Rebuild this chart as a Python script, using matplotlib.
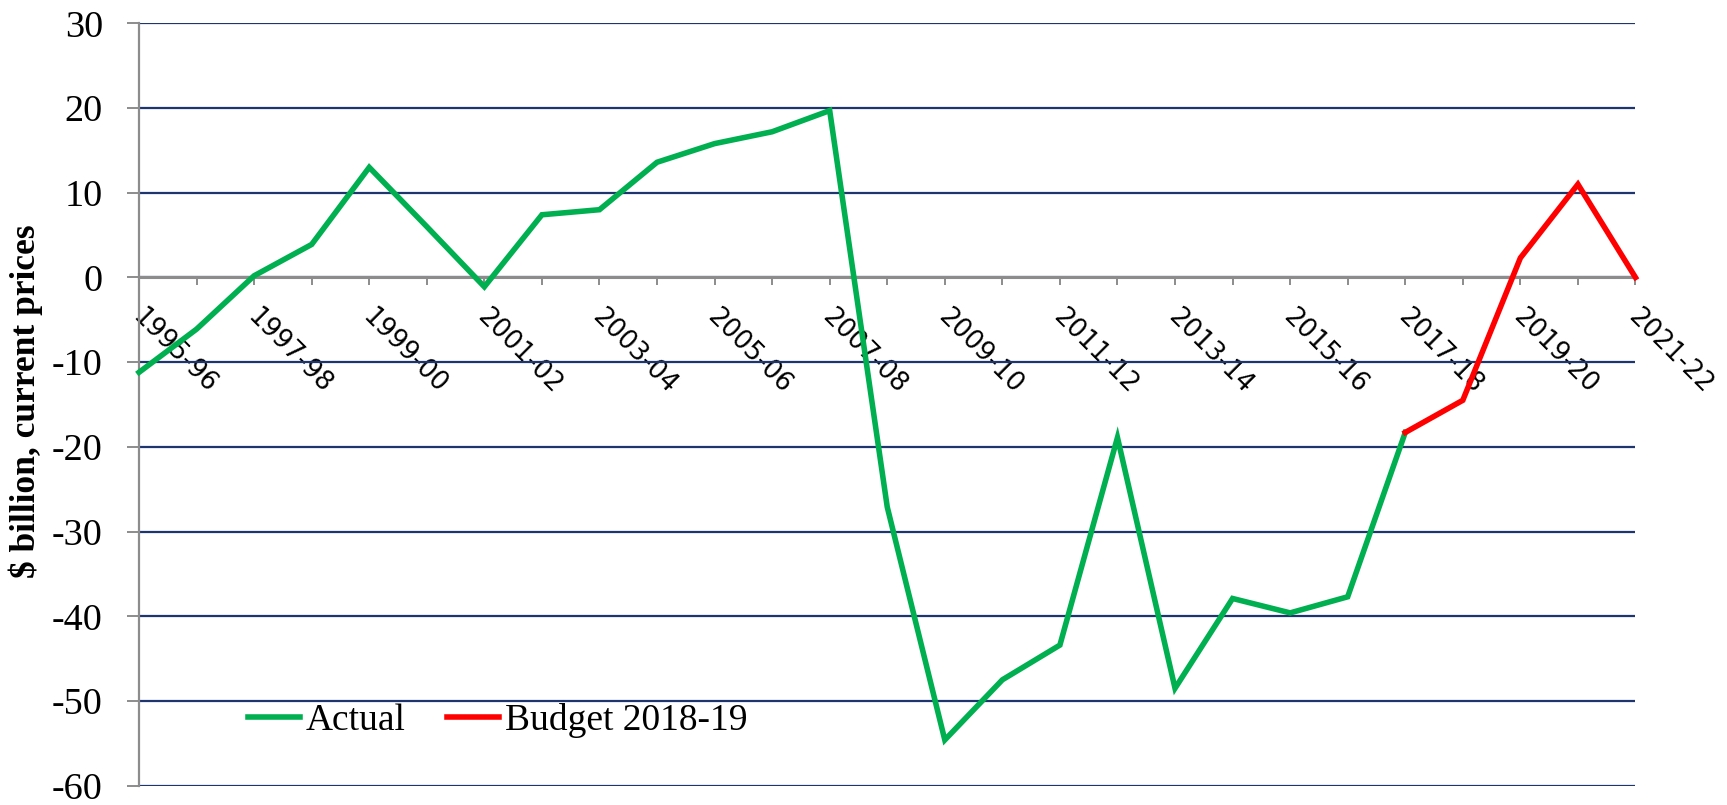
import matplotlib
matplotlib.use("Agg")
import matplotlib.pyplot as plt
import matplotlib.transforms as mtransforms
import numpy as np

# ---------------------------------------------------------------------------
# Data
# ---------------------------------------------------------------------------

YEARS = [
    "1995-96", "1996-97", "1997-98", "1998-99", "1999-00", "2000-01",
    "2001-02", "2002-03", "2003-04", "2004-05", "2005-06", "2006-07",
    "2007-08", "2008-09", "2009-10", "2010-11", "2011-12", "2012-13",
    "2013-14", "2014-15", "2015-16", "2016-17", "2017-18", "2018-19",
    "2019-20", "2020-21", "2021-22",
]

ACTUAL_YEARS = YEARS[:23]
ACTUAL = [
    -11.2, -6.1, 0.2, 3.9, 13.0, 6.0, -1.1, 7.4, 8.0, 13.6, 15.8, 17.2,
    19.7, -27.1, -54.6, -47.5, -43.4, -18.9, -48.5, -37.9, -39.6, -37.7,
    -18.3,
]

BUDGET_YEARS = YEARS[22:]
BUDGET = [-18.3, -14.5, 2.3, 11.0, 0.0]

Y_TICKS = [-60, -50, -40, -30, -20, -10, 0, 10, 20, 30]

GREEN = "#00B050"
RED = "#FF0000"
NAVY = "#1F3570"
AXIS_GRAY = "#8C8C8C"

plt.rcParams["font.family"] = ["Liberation Serif", "DejaVu Serif"]

# ---------------------------------------------------------------------------
# Figure
# ---------------------------------------------------------------------------

fig = plt.figure(figsize=(17.27, 8.05), dpi=100)
ax = fig.add_axes([0.0805, 0.024, 0.8665, 0.947])

pos = {y: i for i, y in enumerate(YEARS)}
x_act = [pos[y] for y in ACTUAL_YEARS]
x_bud = [pos[y] for y in BUDGET_YEARS]

ax.plot(x_act, ACTUAL, color=GREEN, lw=4.0, solid_joinstyle="miter",
        label="Actual", zorder=4, clip_on=False)
ax.plot(x_bud, BUDGET, color=RED, lw=4.0, solid_joinstyle="miter",
        label="Budget 2018-19", zorder=4, clip_on=False)

ax.set_xlim(0, len(YEARS) - 1)
ax.set_ylim(Y_TICKS[0], Y_TICKS[-1])

# spines first: set_position() resets the ticks, dropping label styling
for side in ("top", "right"):
    ax.spines[side].set_visible(False)
ax.spines["left"].set_color(AXIS_GRAY)
ax.spines["left"].set_linewidth(1.6)
ax.spines["bottom"].set_position(("data", 0))
ax.spines["bottom"].set_color(AXIS_GRAY)
ax.spines["bottom"].set_linewidth(2.2)
ax.spines["bottom"].set_zorder(3)

ax.tick_params(axis="y", direction="out", length=9, width=1.4,
               color=AXIS_GRAY, pad=17)
ax.tick_params(axis="x", direction="out", length=6, width=1.4,
               color=AXIS_GRAY, pad=13)

ax.set_yticks(Y_TICKS)
ax.set_yticklabels([str(v) for v in Y_TICKS], fontsize=27.5)

ax.set_xticks(range(len(YEARS)))
ax.set_xticklabels(
    [y if i % 2 == 0 else "" for i, y in enumerate(YEARS)],
    rotation=-45, ha="left", va="top", rotation_mode="anchor",
    fontsize=18.5, family="DejaVu Sans",
)
# nudge the slanted labels a few pixels right, as in the original
shift = mtransforms.ScaledTranslation(6 / 100, 0, fig.dpi_scale_trans)
for lab in ax.get_xticklabels():
    lab.set_transform(lab.get_transform() + shift)

ax.yaxis.grid(True, color=NAVY, lw=1.6)
ax.set_axisbelow(True)

ax.set_ylabel("$ billion, current prices", fontsize=25.5, fontweight="bold")
ax.yaxis.set_label_coords(-0.064, 0.505)

ax.legend(
    loc="center left",
    bbox_to_anchor=(0.05, 0.085),
    ncol=2,
    frameon=False,
    fontsize=27,
    handlelength=1.4,
    handletextpad=0.15,
    columnspacing=1.1,
)

fig.savefig("out.png", dpi=100)
